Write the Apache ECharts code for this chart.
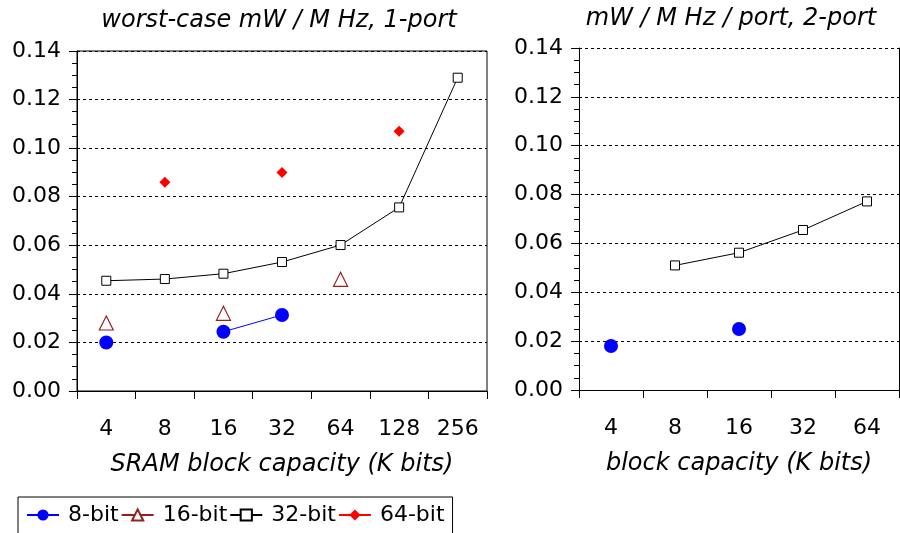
<!DOCTYPE html>
<html>
<head>
<meta charset="utf-8">
<script src="https://cdn.jsdelivr.net/npm/echarts@6/dist/echarts.min.js"></script>
<style>html,body{margin:0;padding:0;background:#fff;}#c{width:900px;height:533px;}</style>
</head>
<body>
<div id="c"></div>
<script>
// ---- data ----
const leftCategories = ['4', '8', '16', '32', '64', '128', '256'];
const rightCategories = ['4', '8', '16', '32', '64'];
const left8bit  = [0.020, null, 0.0244, 0.0313, null, null, null];
const left16bit = [0.028, null, 0.032, null, 0.046, null, null];
const left32bit = [0.0454, 0.0461, 0.0483, 0.0531, 0.0601, 0.0756, 0.129];
const left64bit = [null, 0.086, null, 0.090, null, 0.107, null];
const right8bit  = [0.018, null, 0.025, null, null];
const right32bit = [null, 0.051, 0.0562, 0.0655, 0.0772];
const yTicks = { min: 0, max: 0.14, interval: 0.02 };
const titles = ['worst-case mW / M Hz, 1-port', 'mW / M Hz / port, 2-port'];
const xNames = ['SRAM block capacity (K bits)', 'block capacity (K bits)'];
const seriesNames = ['8-bit', '16-bit', '32-bit', '64-bit'];

const FONT = 'DejaVu Sans';
const chart = echarts.init(document.getElementById('c'), null, { renderer: 'canvas' });

function yAxis(gridIndex) {
  return {
    type: 'value', gridIndex: gridIndex, min: yTicks.min, max: yTicks.max, interval: yTicks.interval,
    axisLine: { show: true, lineStyle: { color: '#000', width: 1 } },
    axisTick: { show: true, length: 8, lineStyle: { color: '#000' } },
    minorTick: { show: true, splitNumber: 4, length: 5, lineStyle: { color: '#000' } },
    axisLabel: { color: '#000', fontSize: 22, fontFamily: FONT, margin: 16,
      formatter: v => v.toFixed(2) },
    splitLine: { show: true, lineStyle: { color: '#000', width: 1, type: [3, 3] } }
  };
}
function xAxis(gridIndex, cats, name) {
  return {
    type: 'category', gridIndex: gridIndex, data: cats, boundaryGap: true,
    name: name, nameLocation: 'middle', nameGap: 62,
    nameTextStyle: { color: '#000', fontSize: 24, fontStyle: 'italic', fontFamily: FONT },
    axisLine: { show: true, lineStyle: { color: '#000', width: 1 } },
    axisTick: { show: true, length: 8, interval: 0, lineStyle: { color: '#000' } },
    axisLabel: { color: '#000', fontSize: 22, fontFamily: FONT, margin: 27, interval: 0 },
    splitLine: { show: false }
  };
}

const styles = {
  '8-bit':  { symbol: 'circle', symbolSize: 14, itemStyle: { color: '#0000ff' }, lineStyle: { color: '#0000ff', width: 1 } },
  '16-bit': { symbol: 'triangle', symbolSize: 14, itemStyle: { color: '#ffffff', borderColor: '#961e1e', borderWidth: 1.2 }, lineStyle: { color: '#961e1e', width: 1 } },
  '32-bit': { symbol: 'rect', symbolSize: 9, itemStyle: { color: '#ffffff', borderColor: '#000', borderWidth: 1 }, lineStyle: { color: '#000', width: 1 } },
  '64-bit': { symbol: 'diamond', symbolSize: 11, itemStyle: { color: '#ff0000' }, lineStyle: { color: '#ff0000', width: 1 } }
};
function line(name, data, xi, yi) {
  const s = styles[name];
  return Object.assign({
    type: 'line', name: name, data: data, xAxisIndex: xi, yAxisIndex: yi,
    connectNulls: false, showSymbol: true, showAllSymbol: true, silent: true
  }, JSON.parse(JSON.stringify(s)));
}

const rightBorderAxis = {
  type: 'value', gridIndex: 1, position: 'right', min: yTicks.min, max: yTicks.max, interval: yTicks.interval,
  axisLine: { show: true, lineStyle: { color: '#000' } }, axisTick: { show: false },
  axisLabel: { show: false }, splitLine: { show: false }
};

chart.setOption({
  animation: false,
  backgroundColor: '#fff',
  title: [
    { text: titles[0], left: 279, top: 9, textAlign: 'center', padding: 0,
      textStyle: { fontSize: 24, fontStyle: 'italic', fontWeight: 'normal', color: '#000', fontFamily: FONT } },
    { text: titles[1], left: 731, top: 7, textAlign: 'center', padding: 0,
      textStyle: { fontSize: 24, fontStyle: 'italic', fontWeight: 'normal', color: '#000', fontFamily: FONT } }
  ],
  grid: [
    { left: 77, top: 51, width: 410, height: 340, show: true, borderColor: '#000', borderWidth: 1, backgroundColor: 'transparent' },
    { left: 579, top: 48, width: 320, height: 342, show: false }
  ],
  xAxis: [xAxis(0, leftCategories, xNames[0]), xAxis(1, rightCategories, xNames[1])],
  yAxis: [yAxis(0), yAxis(1), rightBorderAxis],
  legend: {
    data: seriesNames, left: 18, top: 497, orient: 'horizontal',
    padding: [7, 8, 12, 8], itemGap: 2, itemWidth: 32, itemHeight: 14,
    borderColor: '#000', borderWidth: 1, backgroundColor: '#fff',
    textStyle: { fontSize: 22, color: '#000', fontFamily: FONT, padding: [0, 0, 0, 4] },
    selectedMode: false
  },
  series: [
    line('16-bit', left16bit, 0, 0),
    line('64-bit', left64bit, 0, 0),
    line('32-bit', left32bit, 0, 0),
    line('8-bit', left8bit, 0, 0),
    line('32-bit', right32bit, 1, 1),
    line('8-bit', right8bit, 1, 1)
  ]
});
</script>
</body>
</html>
